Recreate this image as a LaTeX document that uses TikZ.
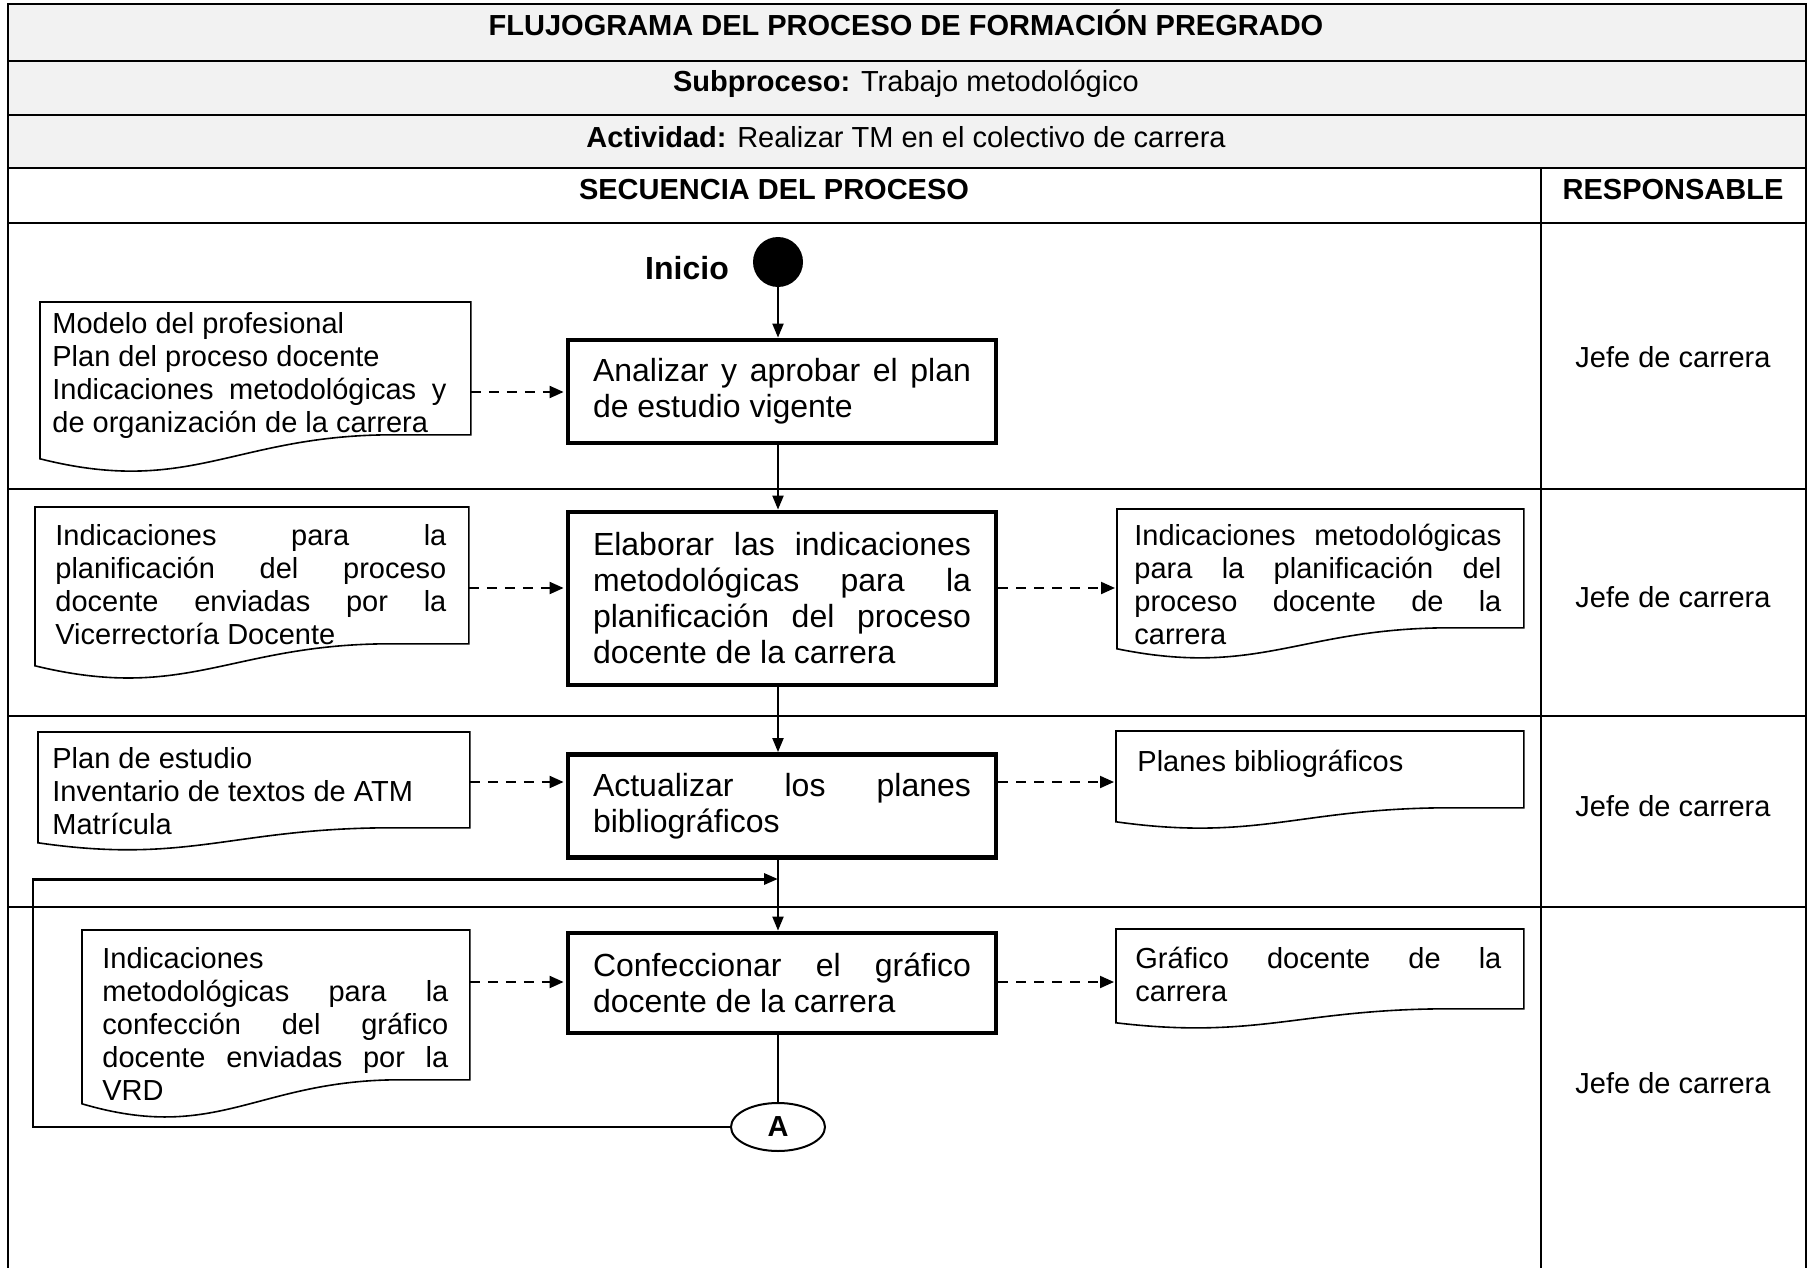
\documentclass[tikz,border=0pt]{standalone}
\usepackage{fontspec}
\setmainfont{Liberation Sans}
\usetikzlibrary{arrows.meta,calc,shapes.geometric}

\hyphenpenalty=10000
\exhyphenpenalty=10000
\tolerance=10000
\hbadness=10000

\newcommand\fsz[2]{\fontsize{#1}{#2}\selectfont}
% document symbol: node #1 is the rectangular part, the left corner drops #2 units
% and the wavy bottom dips with control depth #3
\newcommand\docframe[3]{%
  \draw[docline] (#1.south east) -- (#1.north east) -- (#1.north west)
    -- ($(#1.south west)+(0,#2)$)
    .. controls ($(#1.south west)!0.35!(#1.south east)+(0,#2+#3)$)
           and ($(#1.south west)!0.45!(#1.south east)$)
    .. ($(#1.south west)!0.82!(#1.south east)$) -- cycle;}

\begin{document}
\begin{tikzpicture}[x=0.5pt,y=-0.5pt,
  grid/.style={line width=1.3pt},
  lbl/.style={inner sep=0pt, font=\fsz{14.5}{17}},
  hdr/.style={lbl, font=\bfseries\fsz{14.5}{17}},
  procbox/.style={draw, rectangle, line width=2.4pt, inner sep=0pt,
    minimum width=214pt, text width=189pt, align=justify, font=\fsz{16}{18}},
  docrect/.style={rectangle, inner sep=0pt, anchor=north west},
  doctext/.style={inner sep=0pt, anchor=north west, align=justify, font=\fsz{14.5}{16.5}},
  docline/.style={line width=0.8pt},
  flow/.style={line width=1pt, -{Triangle[length=7pt,width=5.5pt]}},
  feed/.style={line width=1pt, dash pattern=on 5pt off 4pt,
    -{Triangle[length=7pt,width=6pt]}, shorten >=1pt},
]
\useasboundingbox (0,0) rectangle (1811,1268);

% ---- table frame ----
\fill[black!5] (8,4) rectangle (1806,168);
\draw[grid] (8,1268) -- (8,4) -- (1806,4) -- (1806,1268);
\foreach \yy in {61,115,168,223,489,716,907}
  \draw[grid] (8,\yy) -- (1806,\yy);
\draw[grid] (1541,168) -- (1541,1268);

% ---- header texts ----
\node[hdr] (title) at (906,23) {FLUJOGRAMA DEL PROCESO DE FORMACIÓN PREGRADO};
\node[lbl] (sub) at (906,84) {\textbf{Subproceso:} Trabajo metodológico};
\node[lbl] (act) at (906,137) {\textbf{Actividad:} Realizar TM en el colectivo de carrera};
\node[hdr] (seq) at (774,190) {SECUENCIA DEL PROCESO};
\node[hdr] (resp) at (1673,190) {RESPONSABLE};

% ---- responsible column ----
\node[lbl] (r1) at (1673,357) {Jefe de carrera};
\node[lbl] (r2) at (1673,597) {Jefe de carrera};
\node[lbl] (r3) at (1673,806) {Jefe de carrera};
\node[lbl] (r4) at (1673,1083) {Jefe de carrera};

% ---- start ----
\node[circle, fill, minimum size=25pt, inner sep=0pt] (start) at (778,262) {};
\node[lbl, font=\bfseries\fsz{16}{18}] (inicio) at (687,268) {Inicio};

% ---- activities ----
\node[procbox, minimum height=51.5pt] (b1) at (782,391.5)
  {Analizar y aprobar el plan\linebreak de estudio vigente};
\node[procbox, minimum height=86.5pt] (b2) at (782,598.5)
  {Elaborar las indicaciones\linebreak metodológicas para la\linebreak planificación del proceso\linebreak docente de la carrera};
\node[procbox, minimum height=51.5pt] (b3) at (782,806)
  {Actualizar los planes\linebreak bibliográficos};
\node[procbox, minimum height=50pt] (b4) at (782,983)
  {Confeccionar el gráfico\linebreak docente de la carrera};

% ---- connector A ----
\node[ellipse, draw, line width=1pt, minimum width=47pt, minimum height=24pt,
  inner sep=0pt, font=\bfseries\fsz{14.5}{17}] (A) at (778,1127) {A};

% ---- documents ----
\node[docrect, minimum width=215pt, minimum height=66pt] (d1) at (40,302) {};
\docframe{d1}{24}{38}
\node[doctext, text width=197pt] (d1t) at (52,312)
  {Modelo del profesional\newline Plan del proceso docente\newline Indicaciones metodológicas y\linebreak de organización de la carrera};

\node[docrect, minimum width=216.5pt, minimum height=68pt] (d2) at (35,507) {};
\docframe{d2}{22}{37}
\node[doctext, text width=195.5pt] (d2t) at (55,524)
  {Indicaciones para la\linebreak planificación del proceso\linebreak docente enviadas por la\linebreak Vicerrectoría Docente};

\node[docrect, minimum width=203pt, minimum height=59pt] (d3) at (1117,509) {};
\docframe{d3}{21}{29}
\node[doctext, text width=183.5pt] (d3t) at (1134,524)
  {Indicaciones metodológicas\linebreak para la planificación del\linebreak proceso docente de la\linebreak carrera};

\node[docrect, minimum width=215.5pt, minimum height=47.5pt] (d4) at (38,732) {};
\docframe{d4}{15}{22}
\node[doctext, text width=196pt] (d4t) at (52,747)
  {Plan de estudio\newline Inventario de textos de ATM\newline Matrícula};

\node[docrect, minimum width=203.5pt, minimum height=38pt] (d5) at (1116,731) {};
\docframe{d5}{14}{20}
\node[doctext, text width=183pt] (d5t) at (1137,750) {Planes bibliográficos};

\node[docrect, minimum width=193.5pt, minimum height=74.5pt] (d6) at (82,930) {};
\docframe{d6}{24}{40}
\node[doctext, text width=173pt] (d6t) at (102,947)
  {Indicaciones\newline metodológicas para la\linebreak confección del gráfico\linebreak docente enviadas por la\linebreak VRD};

\node[docrect, minimum width=203.5pt, minimum height=39.5pt] (d7) at (1116,929) {};
\docframe{d7}{14}{17}
\node[doctext, text width=183pt] (d7t) at (1135,947)
  {Gráfico docente de la\linebreak carrera};

% ---- main sequence ----
\draw[flow] (start) -- (start |- b1.north);
\draw[flow] (b1.south -| start) -- (b2.north -| start);
\draw[flow] (b2.south -| start) -- (b3.north -| start);
\draw[flow] (b3.south -| start) -- (b4.north -| start);
\draw[line width=0.6pt] (b4.south -| start) -- (A);

% ---- return loop from A ----
\coordinate (lpb) at (33,1127);
\coordinate (lpt) at (33,879);
\draw[line width=1pt, line cap=rect] (A.west) -- (A.west -| lpb) -- (lpt);
\draw[line width=1.5pt, -{Triangle[length=7pt,width=5.5pt]}] (lpt) -- (lpt -| start);

% ---- inputs and outputs ----
\coordinate (f1) at (0,392);
\coordinate (f2) at (0,588);
\coordinate (f3) at (0,782);
\coordinate (f4) at (0,982);
\draw[feed] (d1.east |- f1) -- (b1.west |- f1);
\draw[feed] (d2.east |- f2) -- (b2.west |- f2);
\draw[feed] (b2.east |- f2) -- (d3.west |- f2);
\draw[feed] (d4.east |- f3) -- (b3.west |- f3);
\draw[feed] (b3.east |- f3) -- (d5.west |- f3);
\draw[feed] (d6.east |- f4) -- (b4.west |- f4);
\draw[feed] (b4.east |- f4) -- (d7.west |- f4);
\end{tikzpicture}
\end{document}
